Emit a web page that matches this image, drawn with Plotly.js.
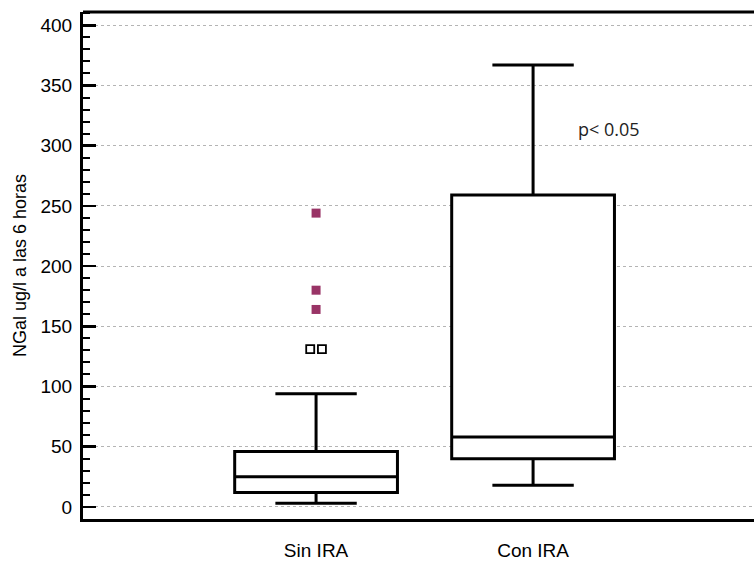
<!DOCTYPE html>
<html>
<head>
<meta charset="utf-8">
<script src="https://cdn.plot.ly/plotly-3.0.1.min.js"></script>
<style>html,body{margin:0;padding:0;background:#fff;}#chart{width:754px;height:562px;}</style>
</head>
<body>
<div id="chart"></div>
<script>
// Data
const groups = ["Sin IRA", "Con IRA"];
const groupPos = [1, 2];
const lowerWhisker = [3, 18];
const q1 = [12, 40];
const median = [25, 58];
const q3 = [46, 259];
const upperWhisker = [94, 367];
const farOutliersSin = [244, 180, 164];
const nearOutliersSin = [131, 131];
const yTicks = [0, 50, 100, 150, 200, 250, 300, 350, 400];

const traces = [];
groups.forEach((g, i) => {
  traces.push({
    type: 'box',
    name: g,
    x: [groupPos[i]],
    q1: [q1[i]], median: [median[i]], q3: [q3[i]],
    lowerfence: [lowerWhisker[i]], upperfence: [upperWhisker[i]],
    width: 0.75,
    whiskerwidth: 0.5,
    boxpoints: false,
    fillcolor: '#ffffff',
    line: {color: '#000000', width: 3},
    hoverinfo: 'skip',
    showlegend: false
  });
});
traces.push({
  type: 'scatter', mode: 'markers',
  x: farOutliersSin.map(() => groupPos[0]),
  y: farOutliersSin,
  marker: {symbol: 'square', size: 9, color: '#993466', line: {width: 0}},
  showlegend: false, hoverinfo: 'skip'
});
traces.push({
  type: 'scatter', mode: 'markers',
  x: nearOutliersSin.map((v, k) => groupPos[0] + (k - (nearOutliersSin.length - 1) / 2) * 0.054),
  y: nearOutliersSin,
  marker: {symbol: 'square-open', size: 8, color: '#000000', line: {width: 1.8}},
  showlegend: false, hoverinfo: 'skip'
});

const layout = {
  width: 754, height: 562,
  margin: {l: 83, r: 0, t: 12, b: 43},
  paper_bgcolor: '#ffffff', plot_bgcolor: '#ffffff',
  showlegend: false,
  font: {family: 'Liberation Sans, Arial, sans-serif', color: '#000'},
  xaxis: {
    range: [-0.074, 3.018],
    tickvals: groupPos, ticktext: groups,
    ticks: '', showgrid: false, zeroline: false,
    showline: true, linecolor: '#000', linewidth: 3,
    tickfont: {size: 19, color: '#000'},
    ticklabelstandoff: 12,
    fixedrange: true
  },
  yaxis: {
    range: [-10, 411],
    tickvals: yTicks,
    ticks: 'inside', ticklen: 13, tickwidth: 2.5, tickcolor: '#000',
    minor: {dtick: 10, tick0: 0, ticks: 'inside', ticklen: 7, tickwidth: 2, tickcolor: '#000', showgrid: false},
    showgrid: true, gridcolor: '#b4b4b4', gridwidth: 1, griddash: 'dot',
    zeroline: false,
    showline: true, linecolor: '#000', linewidth: 3,
    tickfont: {size: 19, color: '#000'},
    ticklabelstandoff: 4,
    title: {text: 'NGal ug/l a las 6 horas', font: {size: 18, color: '#000'}, standoff: 10},
    fixedrange: true
  },
  shapes: [
    {type: 'line', xref: 'paper', yref: 'paper', x0: 0, x1: 1, y0: 1, y1: 1, line: {color: '#000', width: 3}}
  ],
  annotations: [
    {x: 2.2, y: 314, xref: 'x', yref: 'y', text: 'p< 0.05', showarrow: false, xanchor: 'left', yanchor: 'middle',
     font: {family: 'Open Sans, sans-serif', size: 18, color: '#222'}}
  ]
};

Plotly.newPlot('chart', traces, layout, {displayModeBar: false, staticPlot: true});
</script>
</body>
</html>
